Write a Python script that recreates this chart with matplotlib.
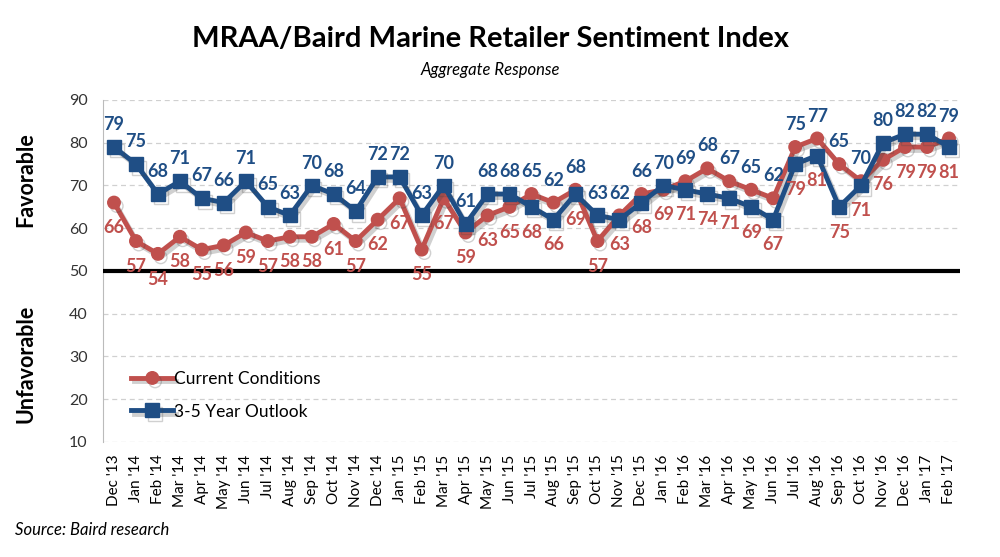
import matplotlib
matplotlib.use("Agg")
from matplotlib import pyplot as plt
from matplotlib import patheffects as pe
import numpy as np

plt.rcParams['font.family'] = ['Lato', 'DejaVu Sans']

months = ["Dec '13", "Jan '14", "Feb '14", "Mar '14", "Apr '14", "May '14", "Jun '14",
          "Jul '14", "Aug '14", "Sep '14", "Oct '14", "Nov '14", "Dec '14",
          "Jan '15", "Feb '15", "Mar '15", "Apr '15", "May '15", "Jun '15",
          "Jul '15", "Aug '15", "Sep '15", "Oct '15", "Nov '15", "Dec '15",
          "Jan '16", "Feb '16", "Mar '16", "Apr '16", "May '16", "Jun '16",
          "Jul '16", "Aug '16", "Sep '16", "Oct '16", "Nov '16", "Dec '16",
          "Jan '17", "Feb '17"]
current = [66, 57, 54, 58, 55, 56, 59, 57, 58, 58, 61, 57, 62,
           67, 55, 67, 59, 63, 65, 68, 66, 69, 57, 63, 68,
           69, 71, 74, 71, 69, 67, 79, 81, 75, 71, 76, 79, 79, 81]
outlook = [79, 75, 68, 71, 67, 66, 71, 65, 63, 70, 68, 64, 72,
           72, 63, 70, 61, 68, 68, 65, 62, 68, 63, 62, 66,
           70, 69, 68, 67, 65, 62, 75, 77, 65, 70, 80, 82, 82, 79]

red = '#C0504D'
blue = '#1F4E85'

fig = plt.figure(figsize=(10, 5.57), dpi=100)
ax = fig.add_axes([0.103, 0.2065, 0.857, 0.614])
x = np.arange(len(months))

shadow = [pe.SimpleLineShadow(offset=(2, -2.5), alpha=0.25, shadow_color='#444444'), pe.Normal()]
ax.plot(x, current, color=red, lw=3.5, marker='o', ms=9, label='Current Conditions',
        path_effects=shadow, zorder=4)
ax.plot(x, outlook, color=blue, lw=3.5, marker='s', ms=10, label='3-5 Year Outlook',
        path_effects=shadow, zorder=5)

# outlook labels sit above both lines, current labels below both
for xi, o, c in zip(x, outlook, current):
    ax.annotate(str(o), (xi, max(o, c)), xytext=(0, 10), textcoords='offset points',
                ha='center', va='bottom', color=blue, fontsize=13, fontweight='bold', zorder=6)
    ax.annotate(str(c), (xi, min(o, c)), xytext=(0, -12), textcoords='offset points',
                ha='center', va='top', color=red, fontsize=13, fontweight='bold', zorder=6)

ax.axhline(50, color='black', lw=3, zorder=3)
ax.set_ylim(10, 90)
ax.set_xlim(-0.5, len(months) - 0.5)
ax.set_yticks(range(10, 91, 10))
ax.yaxis.grid(True, color='#d0d0d0', ls=(0, (4, 3)), lw=0.9)
ax.set_axisbelow(True)
ax.set_xticks(x)
ax.set_xticklabels(months, rotation=90, fontsize=11)
ax.tick_params(axis='y', labelsize=11.5, length=0, pad=11, colors='#333333')
ax.tick_params(axis='x', length=0, pad=9)
for s in ['top', 'right', 'bottom']:
    ax.spines[s].set_visible(False)
ax.spines['left'].set_color('#bbbbbb')

leg = ax.legend(loc='lower left', bbox_to_anchor=(0.015, 0.02), frameon=False, fontsize=12.5,
                handlelength=2.4, handletextpad=0.05, labelspacing=0.95, borderaxespad=0.5)

fig.text(0.49, 0.93, 'MRAA/Baird Marine Retailer Sentiment Index', ha='center', va='center',
         fontsize=21, fontweight='bold')
fig.text(0.49, 0.875, 'Aggregate Response', ha='center', va='center', fontsize=12, style='italic')
fig.text(0.026, 0.677, 'Favorable', rotation=90, ha='center', va='center', fontsize=15.5, fontweight='bold')
fig.text(0.026, 0.347, 'Unfavorable', rotation=90, ha='center', va='center', fontsize=15.5, fontweight='bold')
fig.text(0.015, 0.048, 'Source: Baird research', ha='left', va='center', fontsize=12, style='italic')

plt.savefig('out.png', dpi=100)
